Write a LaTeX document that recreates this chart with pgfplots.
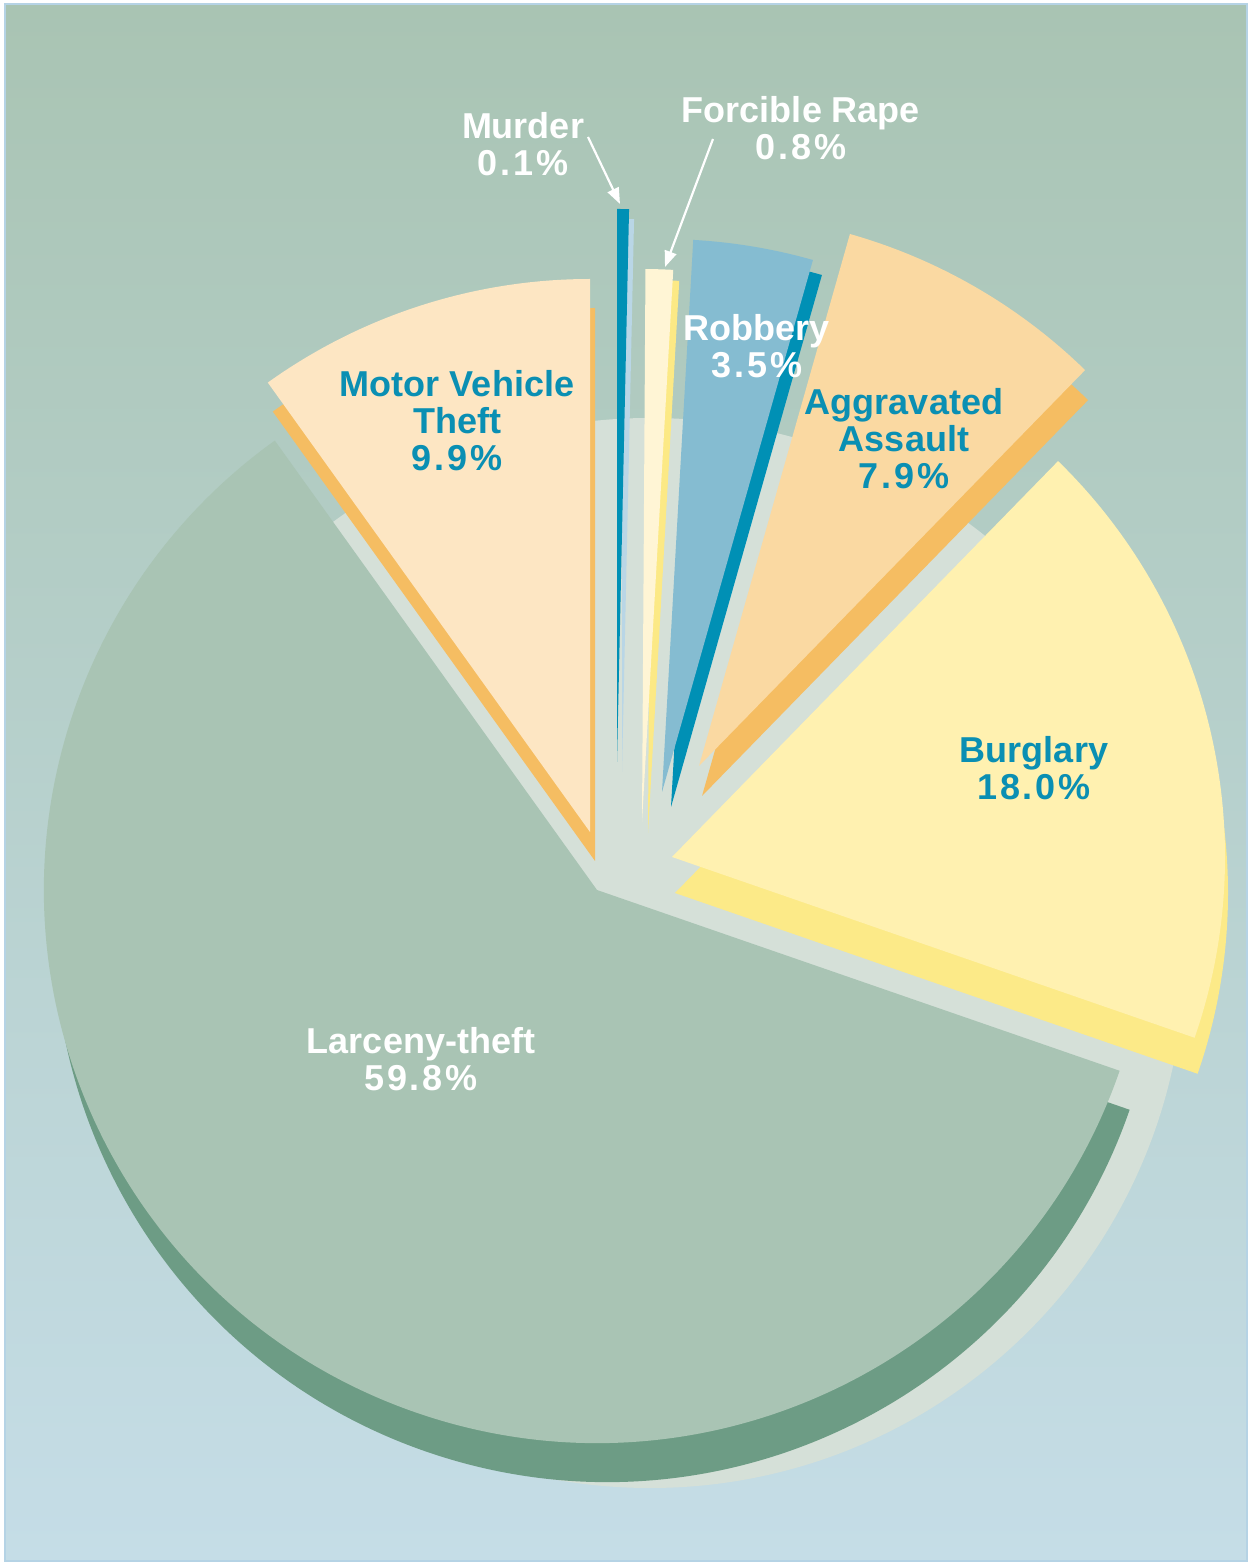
\documentclass[border=0pt]{standalone}
\usepackage{fontspec}
\setmainfont{Liberation Sans}
\usepackage{pgfplots}
\pgfplotsset{compat=1.18}
\usepackage{pgfplotstable}
\usetikzlibrary{arrows.meta}

\definecolor{bgTop}{HTML}{A9C4B3}
\definecolor{bgBot}{HTML}{C5DDE7}
\definecolor{bgLine}{HTML}{B5D3E5}
\definecolor{disc}{HTML}{D5E0D8}
\definecolor{cLarc}{HTML}{A9C4B4}
\definecolor{cLarcS}{HTML}{6D9C85}
\definecolor{cMvt}{HTML}{FDE6C3}
\definecolor{cMvtS}{HTML}{F5BD62}
\definecolor{cMurder}{HTML}{0090B5}
\definecolor{cMurderS}{HTML}{B9D6E6}
\definecolor{cRape}{HTML}{FFF5D5}
\definecolor{cRapeS}{HTML}{FCE985}
\definecolor{cRob}{HTML}{85BCD1}
\definecolor{cRobS}{HTML}{0090B5}
\definecolor{cAgg}{HTML}{FAD9A2}
\definecolor{cAggS}{HTML}{F5BD62}
\definecolor{cBurg}{HTML}{FFF1B0}
\definecolor{cBurgS}{HTML}{FCEA88}
\definecolor{teal}{HTML}{0A8FB3}

\newcommand\lbl{\fontsize{18}{18.5}\selectfont\bfseries}
\newcommand\pct[1]{{\addfontfeatures{LetterSpace=8}#1}}
\def\R{276.5pt}

% share of offenses (percent); tip = slice apex in px, sdx/sdy = depth offset
\pgfplotstableread{
crime    value tx  ty  sdx sdy face    side
Murder   0.1   617 762 5   10  cMurder cMurderS
Rape     0.8   642 822 6   11  cRape   cRapeS
Robbery  3.5   662 792 9   15  cRob    cRobS
Assault  7.9   699 766 3   30  cAgg    cAggS
Burglary 18.0  672 857 3   36  cBurg   cBurgS
Larceny  59.8  597 890 10  39  cLarc   cLarcS
MVT      9.9   590 832 5   29  cMvt    cMvtS
}\crimes

\begin{document}
\begin{tikzpicture}
\begin{axis}[
    x=0.5pt, y=0.5pt,
    xmin=0, xmax=1251, ymin=0, ymax=1564,
    hide axis,
]
\fill[white] (axis cs:0,0) rectangle (axis cs:1251,1564);
\fill[top color=bgTop,bottom color=bgBot,draw=bgLine,line width=1pt]
    (axis cs:5,3) rectangle (axis cs:1247,1560);
\fill[disc] (axis cs:650,611) circle[radius=267.5pt];

\gdef\acur{90}
\pgfplotsinvokeforeach{0,...,6}{
  \pgfplotstablegetelem{#1}{value}\of\crimes\edef\cV{\pgfplotsretval}
  \pgfplotstablegetelem{#1}{tx}\of\crimes\edef\cTx{\pgfplotsretval}
  \pgfplotstablegetelem{#1}{ty}\of\crimes\edef\cTy{\pgfplotsretval}
  \pgfplotstablegetelem{#1}{sdx}\of\crimes\edef\cSdx{\pgfplotsretval}
  \pgfplotstablegetelem{#1}{sdy}\of\crimes\edef\cSdy{\pgfplotsretval}
  \pgfplotstablegetelem{#1}{face}\of\crimes\edef\cFace{\pgfplotsretval}
  \pgfplotstablegetelem{#1}{side}\of\crimes\edef\cSide{\pgfplotsretval}
  \pgfmathsetmacro\aA{\acur}
  \pgfmathsetmacro\aB{\acur-max(3.6*\cV,1.25)}
  \pgfmathsetmacro\aN{\acur-3.6*\cV}
  \pgfmathsetmacro\X{\cTx}
  \pgfmathsetmacro\Y{1564-\cTy}
  \pgfmathsetmacro\SX{\cTx+\cSdx}
  \pgfmathsetmacro\SY{1564-\cTy-\cSdy}
  \xdef\acur{\aN}
  \edef\temp{%
    \noexpand\fill[\cSide] (axis cs:\SX,\SY) -- ++(\aA:\R)
      arc[start angle=\aA,end angle=\aB,radius=\R] -- cycle;
    \noexpand\fill[\cFace] (axis cs:\X,\Y) -- ++(\aA:\R)
      arc[start angle=\aA,end angle=\aB,radius=\R] -- cycle;}
  \temp
}

\draw[white,line width=1.1pt,-{Triangle[length=8pt,width=6pt]}]
    (axis cs:588,1427) -- (axis cs:620,1360);
\draw[white,line width=1.1pt,-{Triangle[length=8pt,width=6pt]}]
    (axis cs:713,1425) -- (axis cs:665,1297);

\node[font=\lbl,text=white,align=center,inner sep=0] at (axis cs:523,1420) {Murder\\\pct{0.1\%}};
\node[font=\lbl,text=white,align=center,inner sep=0] at (axis cs:801,1436) {Forcible Rape\\\pct{0.8\%}};
\node[font=\lbl,text=white,align=center,inner sep=0] at (axis cs:757,1218) {Robbery\\\pct{3.5\%}};
\node[font=\lbl,text=teal,align=center,inner sep=0] at (axis cs:904,1125) {Aggravated\\Assault\\\pct{7.9\%}};
\node[font=\lbl,text=teal,align=center,inner sep=0] at (axis cs:457,1143) {Motor Vehicle\\Theft\\\pct{9.9\%}};
\node[font=\lbl,text=teal,align=center,inner sep=0] at (axis cs:1034,796) {Burglary\\\pct{18.0\%}};
\node[font=\lbl,text=white,align=center,inner sep=0] at (axis cs:421,505) {Larceny-theft\\\pct{59.8\%}};
\end{axis}
\end{tikzpicture}
\end{document}
